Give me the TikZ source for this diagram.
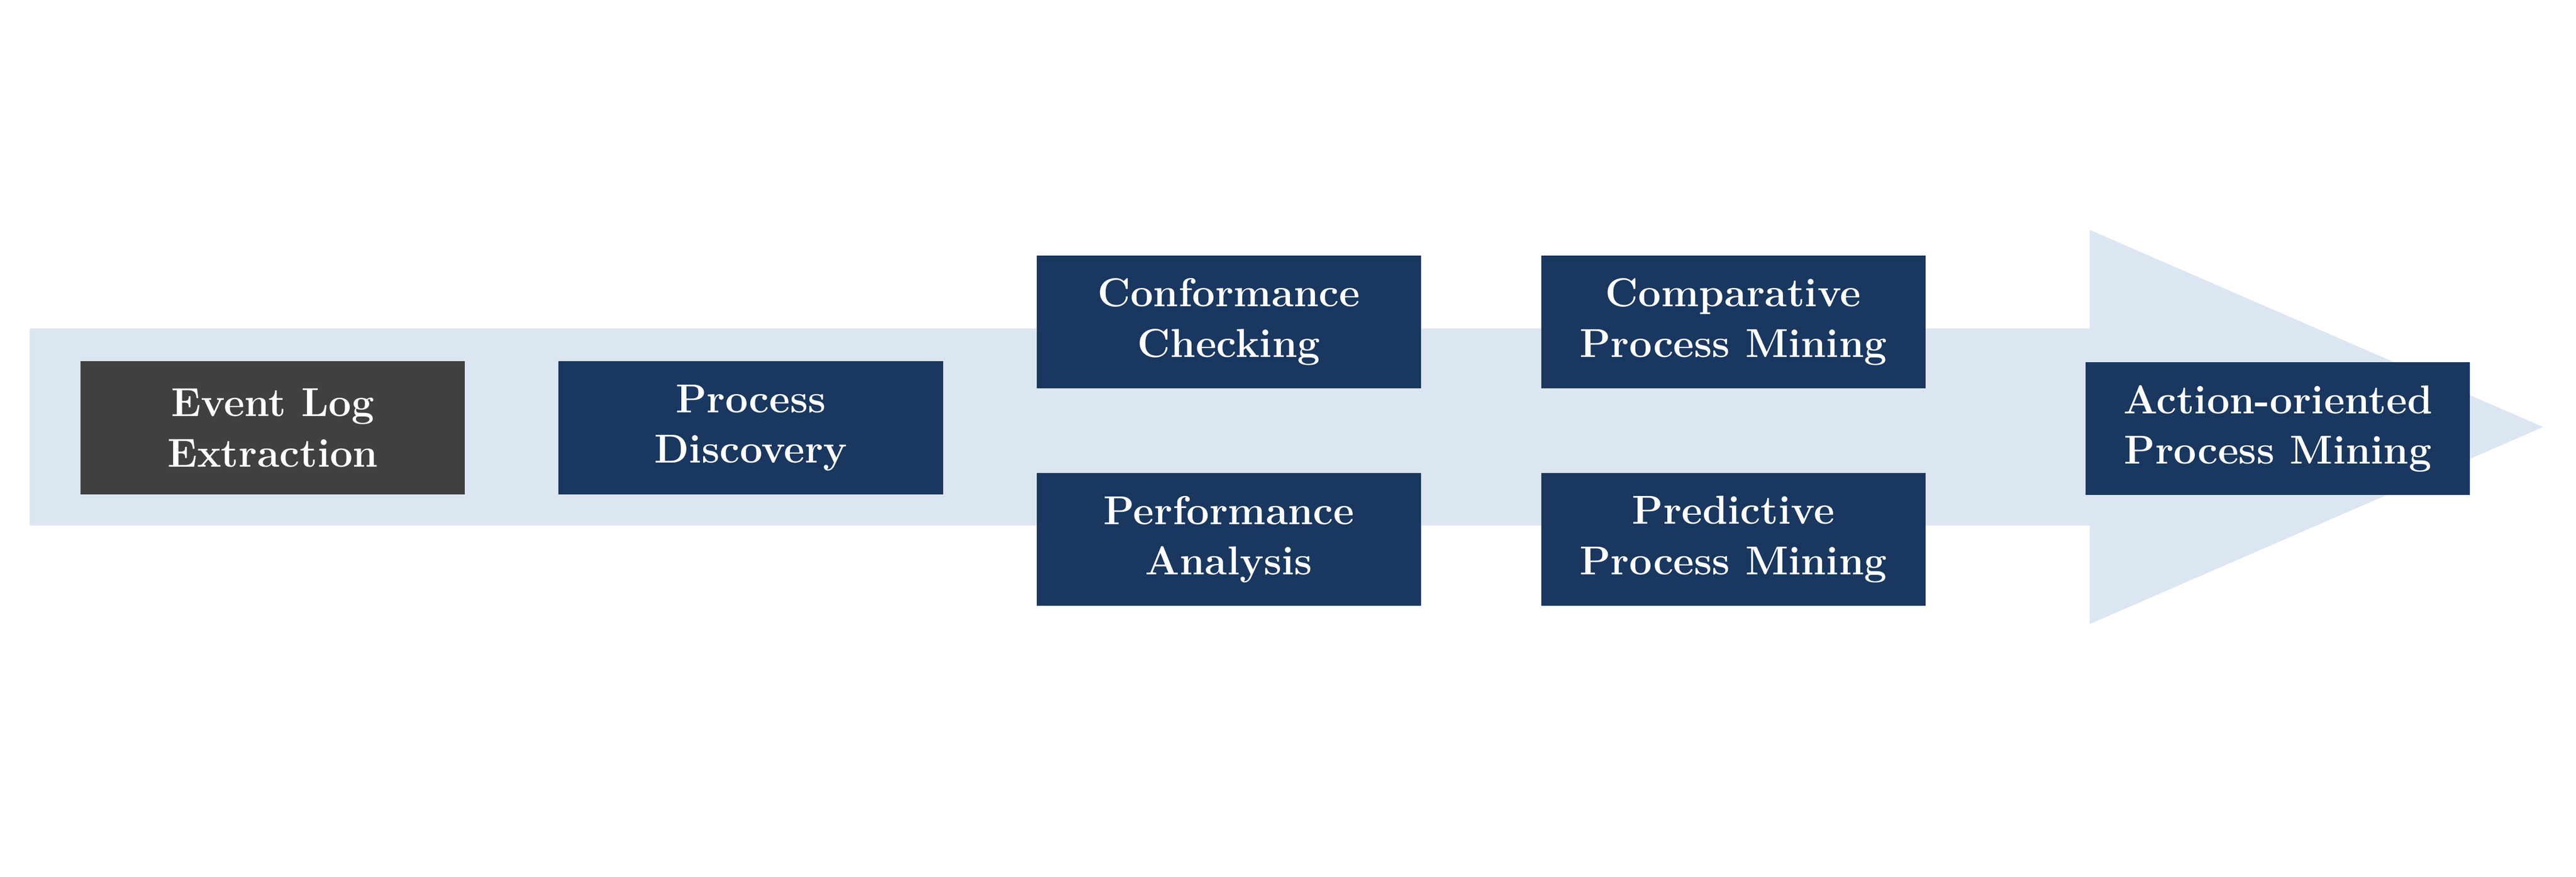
\documentclass[tikz,border=0pt]{standalone}
\usepackage{tikz}
\usepackage{xcolor}
\definecolor{ColNavy}{RGB}{25,55,95}
\definecolor{ColGrey}{RGB}{64,64,64}
\definecolor{ColBand}{RGB}{220,230,242}
\tikzstyle{NodeStep}=[rectangle,fill=ColNavy,text=white,minimum width=4.68cm,minimum height=1.62cm,
align=center,inner sep=0pt,font=\fontsize{14}{17.5}\selectfont\bfseries]
\tikzstyle{NodeStart}=[NodeStep,fill=ColGrey]
\begin{document}
\begin{tikzpicture}[x=0.02cm,y=-0.02cm]
        \useasboundingbox (0,0) rectangle (1568,534);
        \fill[ColBand] (18,200)--(1272,200)--(1272,140)--(1548,260)--(1272,380)--(1272,320)--(18,320)--cycle;
        \node[NodeStart](extract)at(166,260.5){Event Log\\Extraction};
        \node[NodeStep](discover)at(457,260.5){Process\\Discovery};
        \node[NodeStep](conform)at(748,196){Conformance\\Checking};
        \node[NodeStep](perform)at(748,328.5){Performance\\Analysis};
        \node[NodeStep](compare)at(1055,196){Comparative\\Process Mining};
        \node[NodeStep](predict)at(1055,328.5){Predictive\\Process Mining};
        \node[NodeStep](action)at(1386.5,261){Action-oriented\\Process Mining};
    \end{tikzpicture}
\end{document}
